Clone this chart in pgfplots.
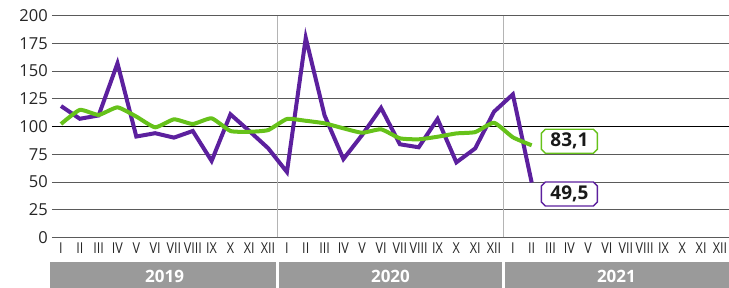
\documentclass[border=0pt]{standalone}
\usepackage{pgfplots}
\pgfplotsset{compat=1.18}
\usepackage{fontspec}
\setmainfont{Open Sans}
\newfontfamily\condfont[FakeStretch=0.84]{Open Sans}
\usetikzlibrary{shapes.misc}
\definecolor{cpurple}{RGB}{92,32,158}
\definecolor{cgreen}{RGB}{102,194,26}
\definecolor{cband}{RGB}{154,154,154}
\definecolor{cgrid}{RGB}{90,90,90}
\definecolor{csep}{RGB}{180,180,180}
\pgfplotstableread{
x p g
0 118.5 102.3
1 107 115
2 110 110.5
3 157 117.3
4 91 109
5 94 99.3
6 90 106.5
7 96 102.3
8 69 107.4
9 111 96
10 96 95.3
11 80.5 96.8
12 59 106.8
13 180 105.2
14 110 102.9
15 70.7 98.4
16 92.5 94.4
17 116.8 97.5
18 84 89.4
19 81.3 88.5
20 106.8 90.8
21 67.7 93.8
22 80.3 95
23 113.4 103.4
24 129 90.3
25 49.5 83.1
}\datatab
\begin{document}
\begin{tikzpicture}
\begin{axis}[
  scale only axis,
  width=677pt, height=221.8pt,
  xmin=-0.48, xmax=35.48,
  ymin=0, ymax=200,
  axis line style={draw=none},
  clip=false,
  ytick={0,25,...,200},
  major tick length=0pt,
  tick style={draw=none},
  xtick={0,...,35},
  xticklabels={I,II,III,IV,V,VI,VII,VIII,IX,X,XI,XII,I,II,III,IV,V,VI,VII,VIII,IX,X,XI,XII,I,II,III,IV,V,VI,VII,VIII,IX,X,XI,XII},
  xticklabel style={font=\condfont\fontsize{15}{15}\selectfont, text=black!85, anchor=center, yshift=-10.5pt, inner sep=0pt, text height=10.5pt, text depth=0pt},
  yticklabel style={font=\fontsize{16.5}{17}\selectfont, text=black!85, anchor=east, inner sep=0pt, xshift=-4pt},
  /pgf/number format/assume math mode=true,
]
\pgfplotsinvokeforeach{0,25,50,75,125,150,175,200}{
  \draw[cgrid, line width=0.9pt] (axis cs:-0.48,#1) -- (axis cs:35.48,#1);
}
\draw[black, line width=1.6pt] (axis cs:-0.48,100) -- (axis cs:35.48,100);
\draw[csep, line width=1pt] (axis cs:11.5,0) -- (axis cs:11.5,200);
\draw[csep, line width=1pt] (axis cs:23.5,0) -- (axis cs:23.5,200);
\fill[cband] (axis cs:-0.58,-21.8) rectangle (axis cs:11.42,-45.5);
\fill[cband] (axis cs:11.58,-21.8) rectangle (axis cs:23.42,-45.5);
\fill[cband] (axis cs:23.58,-21.8) rectangle (axis cs:35.48,-45.5);
\node[text=white, font=\bfseries\fontsize{17}{17}\selectfont] at (axis cs:5.5,-35.2) {2019};
\node[text=white, font=\bfseries\fontsize{17}{17}\selectfont] at (axis cs:17.5,-35.2) {2020};
\node[text=white, font=\bfseries\fontsize{17}{17}\selectfont] at (axis cs:29.5,-35.2) {2021};
\addplot[cpurple, line width=4pt, line join=miter, mark=none] table[x=x,y=p]{\datatab};
\addplot[cgreen, line width=4pt, line join=round, smooth, tension=0.3, mark=none] table[x=x,y=g]{\datatab};
\node[chamfered rectangle, chamfered rectangle xsep=2pt, chamfered rectangle ysep=2pt, draw=cgreen, line width=1.4pt, fill=white, minimum width=56pt, minimum height=24pt, inner sep=0pt, anchor=west, font=\bfseries\fontsize{19}{19}\selectfont, text=black!90] at (axis cs:25.48,86.7) {83,1};
\node[chamfered rectangle, chamfered rectangle xsep=2pt, chamfered rectangle ysep=2pt, draw=cpurple, line width=1.4pt, fill=white, minimum width=56pt, minimum height=24pt, inner sep=0pt, anchor=west, font=\bfseries\fontsize{19}{19}\selectfont, text=black!90] at (axis cs:25.48,39.2) {49,5};
\coordinate (bbsw) at (axis cs:-3.24,-45.5);
\coordinate (bbne) at (axis cs:35.48,214.1);
\end{axis}
\pgfresetboundingbox
\useasboundingbox (bbsw) rectangle (bbne);
\end{tikzpicture}
\end{document}
